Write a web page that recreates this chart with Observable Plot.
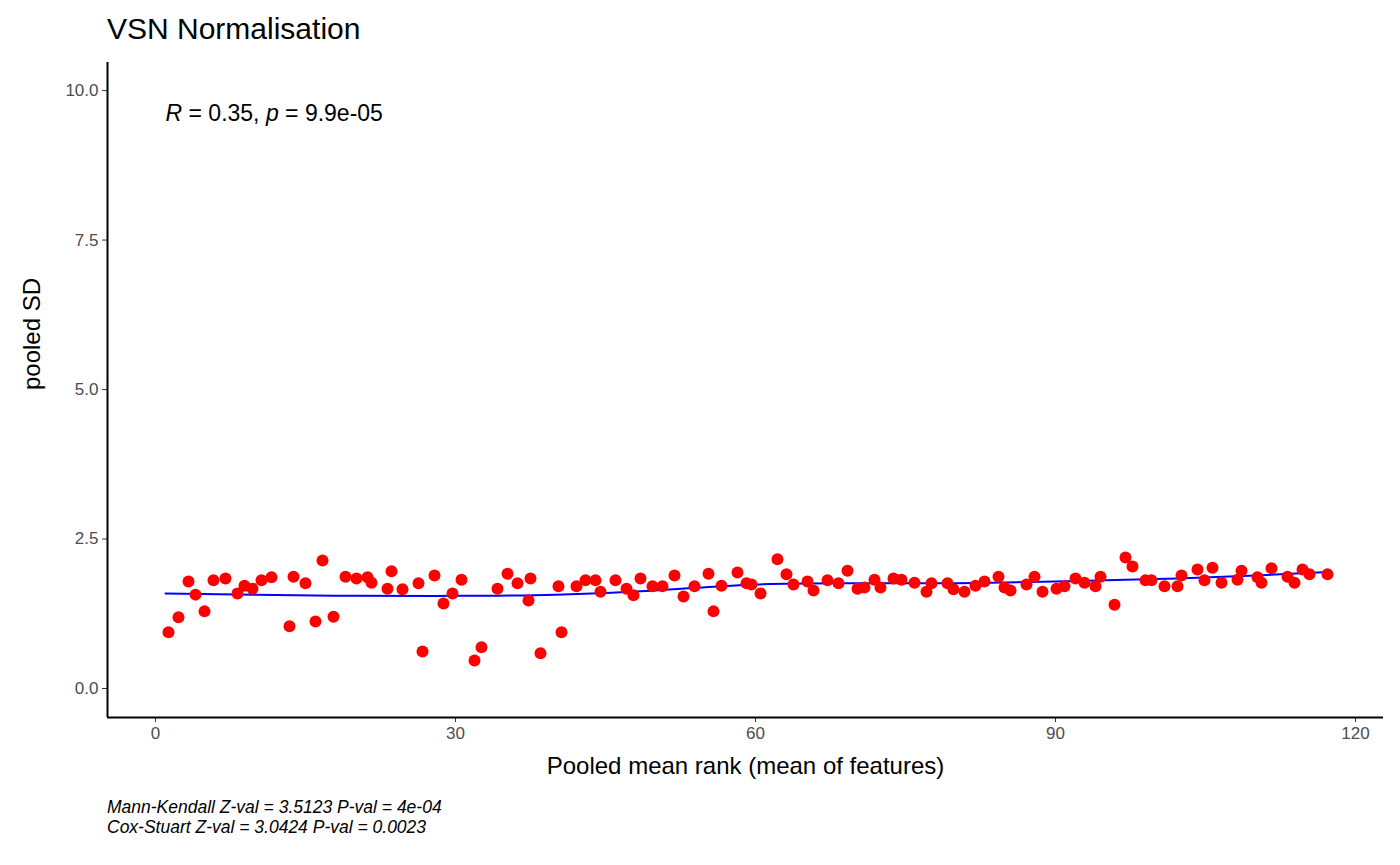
<!DOCTYPE html>
<html>
<head>
<meta charset="utf-8">
<script src="https://cdn.jsdelivr.net/npm/d3@7"></script>
<script src="https://cdn.jsdelivr.net/npm/@observablehq/plot@0.6"></script>
<style>
  body { margin: 0; background: #fff; font-family: Arial, "Liberation Sans", sans-serif; }
  #title { height: 50px; padding-left: 107px; font-size: 30px; line-height: 58px; color: #000; }
  #caption { padding-left: 107px; font-size: 17.5px; font-style: italic; line-height: 20px; margin-top: 2px; }
</style>
</head>
<body>
<div id="title">VSN Normalisation</div>
<div id="chart"></div>
<div id="caption">Mann-Kendall Z-val = 3.5123 P-val = 4e-04<br>Cox-Stuart Z-val = 3.0424 P-val = 0.0023</div>
<script>
const rankX = [1.3,2.3,3.3,4,4.9,5.8,7,8.2,8.9,9.7,10.6,11.6,13.4,13.8,15,16,16.7,17.8,19,20.1,21.2,21.6,23.2,23.6,24.7,26.3,26.7,27.9,28.8,29.7,30.6,31.9,32.6,34.2,35.2,36.2,37.3,37.5,38.5,40.3,40.6,42.1,43,44,44.5,46,47.1,47.8,48.5,49.7,50.7,51.9,52.8,53.9,55.3,55.8,56.6,58.2,59.1,59.6,60.5,62.2,63.1,63.8,65.2,65.8,67.2,68.3,69.2,70.2,70.9,71.9,72.5,73.8,74.6,75.9,77.1,77.6,79.2,79.8,80.9,82,82.9,84.3,84.9,85.5,87.1,87.9,88.7,90.1,90.9,92,92.9,94,94.5,95.9,97,97.7,99,99.6,100.9,102.2,102.6,104.2,104.9,105.7,106.6,108.2,108.6,110.2,110.6,111.6,113.2,113.9,114.7,115.4,117.2];
const pooledSD = [0.94,1.19,1.79,1.57,1.29,1.81,1.84,1.59,1.72,1.67,1.81,1.86,1.04,1.87,1.76,1.12,2.14,1.2,1.87,1.84,1.86,1.77,1.67,1.96,1.66,1.76,0.62,1.89,1.42,1.59,1.82,0.47,0.69,1.67,1.92,1.76,1.47,1.84,0.59,1.71,0.94,1.71,1.81,1.81,1.62,1.81,1.67,1.56,1.84,1.71,1.71,1.89,1.54,1.71,1.92,1.29,1.72,1.94,1.76,1.74,1.59,2.16,1.91,1.74,1.79,1.64,1.81,1.76,1.97,1.67,1.69,1.82,1.69,1.84,1.82,1.77,1.62,1.76,1.76,1.66,1.62,1.72,1.79,1.87,1.69,1.64,1.74,1.87,1.62,1.67,1.71,1.84,1.77,1.71,1.87,1.40,2.19,2.04,1.81,1.81,1.71,1.71,1.89,1.99,1.81,2.02,1.77,1.82,1.97,1.86,1.77,2.01,1.87,1.77,1.99,1.91,1.91];
const smoothX = [1,10,20,30,40,50,60,70,80,90,100,110,117.2];
const smoothY = [1.59,1.57,1.55,1.55,1.57,1.64,1.74,1.76,1.76,1.79,1.83,1.89,1.95];
const xTicks = [0,30,60,90,120];
const yTicks = [0,2.5,5,7.5,10];

const points = rankX.map((x, i) => ({x, y: pooledSD[i]}));
const smooth = smoothX.map((x, i) => ({x, y: smoothY[i]}));
const xDom = [-4.8, 122.8], yDom = [-0.485, 10.47];

const chart = Plot.plot({
  width: 1400, height: 745,
  marginLeft: 107, marginRight: 17, marginTop: 12, marginBottom: 78,
  style: {fontFamily: "Arial, 'Liberation Sans', sans-serif"},
  x: {domain: xDom},
  y: {domain: yDom},
  marks: [
    Plot.axisX({ticks: xTicks, tickSize: 5, tickPadding: 4, fontSize: 17, color: "#4d4d4d", stroke: "#333", label: null}),
    Plot.axisY({ticks: yTicks, tickSize: 5, tickPadding: 4, fontSize: 17, tickFormat: d => d.toFixed(1), color: "#4d4d4d", stroke: "#333", label: null}),
    Plot.text(["Pooled mean rank (mean of features)"], {frameAnchor: "bottom", dy: 56, fontSize: 24, fill: "#000"}),
    Plot.text(["pooled SD"], {frameAnchor: "left", dx: -75, rotate: -90, fontSize: 24, fill: "#000"}),
    Plot.ruleX([xDom[0]], {stroke: "#000", strokeWidth: 2}),
    Plot.ruleY([yDom[0]], {stroke: "#000", strokeWidth: 2}),
    Plot.line(smooth, {x: "x", y: "y", stroke: "#0000ff", strokeWidth: 2, curve: "natural"}),
    Plot.dot(points, {x: "x", y: "y", r: 6, fill: "#ff0000"}),
    Plot.text(["R = 0.35, p = 9.9e-05"], {x: 1, y: 9.62, text: d => d, textAnchor: "start", fontSize: 23, fill: "#000", className: "stat"})
  ]
});

// italic R and p
d3.select(chart).selectAll(".stat text").each(function() {
  const t = d3.select(this);
  t.text("");
  t.append("tspan").attr("font-style", "italic").text("R");
  t.append("tspan").text(" = 0.35, ");
  t.append("tspan").attr("font-style", "italic").text("p");
  t.append("tspan").text(" = 9.9e-05");
});

d3.select('#chart').append(() => chart);
</script>
</body>
</html>
